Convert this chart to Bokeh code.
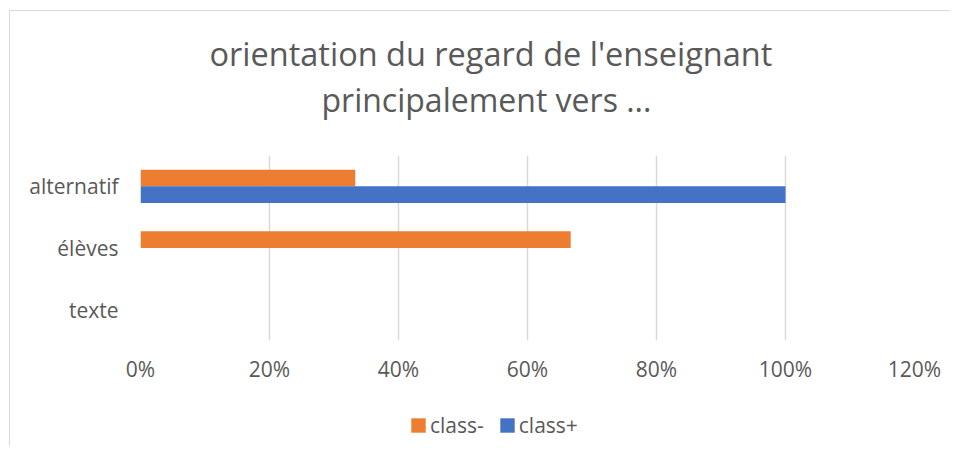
from bokeh.plotting import figure
from bokeh.layouts import column
from bokeh.models import (FactorRange, Range1d, FixedTicker, NumeralTickFormatter,
                          ColumnDataSource, Legend, LegendItem, Title)
from bokeh.transform import dodge
from bokeh.embed import file_html
from bokeh.resources import INLINE

categories = ["texte", "élèves", "alternatif"]
class_minus = [0.0, 0.667, 0.333]
class_plus = [0.0, 0.0, 1.0]
x_ticks = [0, 0.2, 0.4, 0.6, 0.8, 1.0, 1.2]
title_lines = ["orientation du regard de l'enseignant", "principalement vers ..."]
series_names = ["class-", "class+"]

FONT = "Open Sans"
GREY = "#595959"
ORANGE = "#ED7D31"
BLUE = "#4472C4"

src = ColumnDataSource(dict(cat=categories, minus=class_minus, plus=class_plus))

p = figure(width=940, height=380, y_range=FactorRange(factors=categories),
           x_range=Range1d(0, 1.2), output_backend="svg", toolbar_location=None,
           min_border_left=130, min_border_right=36, min_border_top=144,
           min_border_bottom=51)
p.title = None
p.outline_line_color = None

p.hbar(y=dodge("cat", 0.135, range=p.y_range), right="minus", left=0,
       height=0.27, source=src, fill_color=ORANGE, line_color=None)
p.hbar(y=dodge("cat", -0.135, range=p.y_range), right="plus", left=0,
       height=0.27, source=src, fill_color=BLUE, line_color=None)

p.xaxis.ticker = FixedTicker(ticks=x_ticks)
p.xaxis.formatter = NumeralTickFormatter(format="0%")
for ax in (p.xaxis[0], p.yaxis[0]):
    ax.axis_line_color = None
    ax.major_tick_line_color = None
    ax.minor_tick_line_color = None
    ax.major_tick_out = 0
    ax.major_tick_in = 0
    ax.major_label_text_font = FONT
    ax.major_label_text_font_size = "21px"
    ax.major_label_text_color = GREY
p.xaxis.major_label_standoff = 14
p.yaxis.major_label_standoff = 22

p.xgrid.grid_line_color = "#d9d9d9"
p.xgrid.grid_line_width = 1.5
p.ygrid.grid_line_color = None

# spacer between plot and title, then title line 2, then line 1 (stacked outward)
p.add_layout(Title(text=" ", text_font=FONT, text_font_size="24px", standoff=0,
                   text_color="white"), "above")
p.add_layout(Title(text=title_lines[1], text_font=FONT, text_font_size="32px",
                   text_font_style="normal", text_color=GREY, align="left",
                   offset=181, standoff=0), "above")
p.add_layout(Title(text=title_lines[0], text_font=FONT, text_font_size="32.5px",
                   text_font_style="normal", text_color=GREY, align="left",
                   offset=69, standoff=0), "above")

# legend strip below the chart (frames are aligned with the main chart)
p2 = figure(width=940, height=55, x_range=Range1d(0, 1), y_range=Range1d(0, 1),
            output_backend="svg", toolbar_location=None,
            min_border_left=0, min_border_right=0, min_border_top=0,
            min_border_bottom=0)
p2.axis.visible = False
p2.grid.visible = False
p2.outline_line_color = None
p2.title = None
dummy = ColumnDataSource(dict(y=[5.0], right=[0.0]))
g_minus = p2.hbar(y="y", right="right", height=0.1, source=dummy,
                  fill_color=ORANGE, line_color=None)
g_plus = p2.hbar(y="y", right="right", height=0.1, source=dummy,
                 fill_color=BLUE, line_color=None)
legend = Legend(items=[LegendItem(label=series_names[0], renderers=[g_minus]),
                       LegendItem(label=series_names[1], renderers=[g_plus])],
                orientation="horizontal", location=(269, 7),
                padding=0, margin=0, border_line_color=None,
                background_fill_alpha=0, glyph_width=18, glyph_height=18,
                label_standoff=3, spacing=14,
                label_text_font=FONT, label_text_font_size="21px",
                label_text_color=GREY)
p2.add_layout(legend, "center")

layout = column(p, p2, spacing=0)
layout.margin = (10, 0, 0, 9)
layout.styles = {"border-top": "1px solid #d9d9d9", "border-left": "1px solid #d9d9d9"}

open("out.html", "w").write(file_html(layout, INLINE))
